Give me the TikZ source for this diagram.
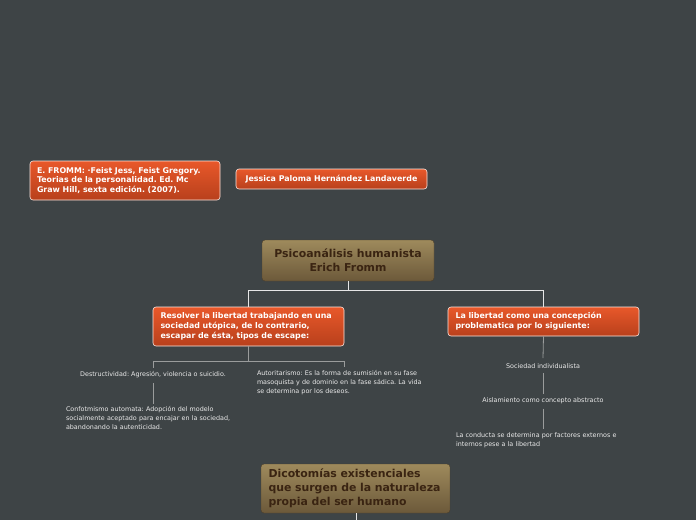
\documentclass[tikz,border=0pt]{standalone}
\usepackage{fontspec}
\setmainfont{DejaVu Sans}
\frenchspacing
\definecolor{bg}{HTML}{3E4446}
\definecolor{orT}{HTML}{E8582A}
\definecolor{orB}{HTML}{B8401C}
\definecolor{tnT}{HTML}{9E8A5C}
\definecolor{tnB}{HTML}{6C593A}
\definecolor{tnText}{HTML}{3A2412}
\definecolor{lineA}{HTML}{E6E6E6}
\definecolor{lineB}{HTML}{9A9C9C}
\definecolor{smallText}{HTML}{EAEAEA}
\tikzset{
  obox/.style={draw=white!85!orT, line width=0.6pt, rounded corners=3pt, top color=orT, bottom color=orB,
    text=white, font=\fontsize{7.9}{9.8}\selectfont\bfseries, inner sep=0pt},
  tbox/.style={draw=tnB!70!black, line width=0.4pt, rounded corners=3pt, top color=tnT, bottom color=tnB,
    text=tnText, font=\fontsize{10.9}{14}\selectfont\bfseries, inner sep=0pt},
  small/.style={text=smallText, font=\fontsize{6.4}{9}\selectfont, inner sep=1pt},
  connA/.style={draw=lineA, line width=0.8pt},
  connB/.style={draw=lineB, line width=0.8pt}
}
\begin{document}
\begin{tikzpicture}[x=1pt,y=-1pt]
\fill[bg] (0,0) rectangle (696,520);
\useasboundingbox (0,0) rectangle (696,520);

\node[obox, minimum width=190pt, minimum height=39pt, text width=176pt, align=left] (ref) at (125,180.5)
  {E. FROMM: ·Feist Jess, Feist Gregory.\\Teorias de la personalidad. Ed. Mc\\Graw Hill, sexta edición. (2007).};
\node[obox, minimum width=191pt, minimum height=20pt, align=center] (author) at (331.5,179)
  {Jessica Paloma Hernández Landaverde};

\node[tbox, minimum width=172pt, minimum height=41pt, align=center] (root) at (348,260.5)
  {Psicoanálisis humanista\\Erich Fromm};

\node[obox, minimum width=191pt, minimum height=39pt, text width=176pt, align=left] (left) at (248.5,326.5)
  {Resolver la libertad trabajando en una\\sociedad utópica, de lo contrario,\\escapar de ésta, tipos de escape:};
\node[obox, minimum width=191pt, minimum height=29pt, text width=176pt, align=left] (right) at (543.5,321.5)
  {La libertad como una concepción\\problematica por lo siguiente:};

\node[small, anchor=north] (destr) at (153,370.5) {Destructividad: Agresión, violencia o suicidio.};
\node[small, anchor=north, text width=174pt, align=left] (autor) at (344,369.5)
  {Autoritarismo: Es la forma de sumisión en su fase\\masoquista y de dominio en la fase sádica. La vida\\se determina por los deseos.};
\node[small, anchor=north, text width=174pt, align=left] (confor) at (153,405.5)
  {Confotmismo automata: Adopción del modelo\\socialmente aceptado para encajar en la sociedad,\\abandonando la autenticidad.};

\node[small, anchor=north] (soc) at (543,362) {Sociedad individualista};
\node[small, anchor=north] (ais) at (543,396) {Aislamiento como concepto abstracto};
\node[small, anchor=north, text width=174pt, align=left] (cond) at (543,431)
  {La conducta se determina por factores externos e\\internos pese a la libertad};

\node[tbox, minimum width=189pt, minimum height=49pt, text width=174pt, align=left] (dico) at (355.5,488.5)
  {Dicotomías existenciales\\que surgen de la naturaleza\\propia del ser humano};

\coordinate (dicoEnd) at (356,520);

% connectors
\draw[connA] (root.south) -- ++(0,9) -| (left.north);
\draw[connA] (root.south) ++(0,9) -| (right.north);
\draw[connB] (left.south) -- ++(0,15) -| ([yshift=2.5pt]destr.north);
\draw[connB] (left.south) ++(0,15) -| ([yshift=2.5pt]autor.north);
\draw[connB] ([yshift=-4pt]destr.south) -- ([yshift=2pt]confor.north);
\draw[connB] (right.south) -- ([yshift=4pt]soc.north);
\draw[connB] ([yshift=-4pt]soc.south) -- ([yshift=2pt]ais.north);
\draw[connB] ([yshift=-4pt]ais.south) -- ([yshift=2pt]cond.north);
\draw[connA] (dico.south -| dicoEnd) -- (dicoEnd);
\end{tikzpicture}
\end{document}
